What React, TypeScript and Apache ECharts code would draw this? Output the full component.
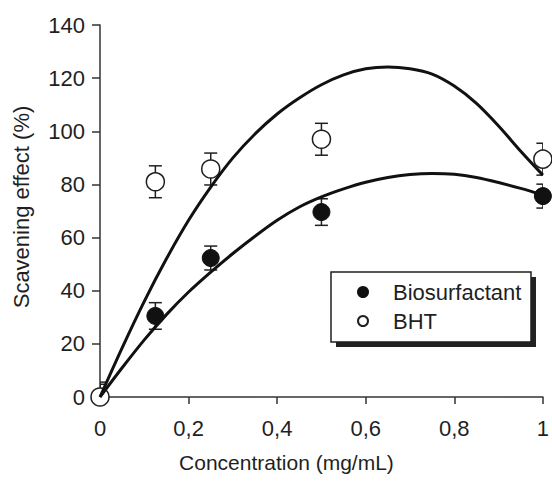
import React, { useEffect, useRef } from "react";
import * as echarts from "echarts";

// Measured points [concentration, scavenging effect %, error]
const bioPoints: number[][] = [
  [0, 0, 4.8],
  [0.125, 30.5, 5],
  [0.25, 52.3, 4.5],
  [0.5, 69.6, 5],
  [1, 75.6, 4.5],
];
const bhtPoints: number[][] = [
  [0, 0, 5.6],
  [0.125, 81, 6],
  [0.25, 85.8, 6],
  [0.5, 97, 6],
  [1, 89.5, 6],
];

// Trend curves
const bhtCurve: number[][] = [
  [0, 0], [0.05, 18.5], [0.1, 36], [0.15, 52], [0.2, 66.5], [0.25, 79], [0.3, 90],
  [0.35, 99], [0.4, 106.5], [0.45, 112.5], [0.5, 117.5], [0.55, 121.2], [0.6, 123.5],
  [0.65, 124.2], [0.7, 123.5], [0.75, 121.5], [0.8, 117], [0.85, 110.5], [0.9, 102],
  [0.95, 92.5], [1, 83.5],
];
const bioCurve: number[][] = [
  [0, 0], [0.05, 11], [0.1, 21.5], [0.15, 31], [0.2, 39.5], [0.25, 47], [0.3, 54],
  [0.35, 60.5], [0.4, 66.5], [0.45, 71.5], [0.5, 75.3], [0.55, 78.3], [0.6, 80.8],
  [0.65, 82.6], [0.7, 83.7], [0.75, 84.1], [0.8, 83.8], [0.85, 82.6], [0.9, 80.7],
  [0.95, 78.5], [1, 76],
];

const xTickLabels = ["0", "0,2", "0,4", "0,6", "0,8", "1"];
const yTicks = [0, 20, 40, 60, 80, 100, 120, 140];

const FONT = "'Liberation Sans', Arial, sans-serif";
const INK = "#1f1f1f";

export default function App() {
  const ref = useRef<HTMLDivElement>(null);
  useEffect(() => {
    if (!ref.current) return;
    const chart = echarts.init(ref.current, undefined, { renderer: "svg" });
    const errRender = (params: any, api: any) => {
      const x = api.value(0);
      const y = api.value(1);
      const e = api.value(2);
      const top = api.coord([x, y + e]);
      const bot = api.coord([x, y - e]);
      const hw = 6.5;
      const st = { stroke: INK, lineWidth: 1.5 };
      return {
        type: "group",
        children: [
          { type: "line", shape: { x1: top[0], y1: top[1], x2: bot[0], y2: bot[1] }, style: st },
          { type: "line", shape: { x1: top[0] - hw, y1: top[1], x2: top[0] + hw, y2: top[1] }, style: st },
          { type: "line", shape: { x1: bot[0] - hw, y1: bot[1], x2: bot[0] + hw, y2: bot[1] }, style: st },
        ],
      };
    };
    chart.setOption({
      animation: false,
      backgroundColor: "#ffffff",
      textStyle: { fontFamily: FONT },
      grid: { left: 100, right: 8, top: 25, bottom: 94 },
      xAxis: {
        type: "value",
        min: 0,
        max: 1,
        interval: 0.2,
        name: "Concentration (mg/mL)",
        nameLocation: "middle",
        nameGap: 55,
        nameTextStyle: { fontSize: 21, color: INK, fontFamily: FONT, padding: [0, 70, 0, 0] },
        axisLine: { show: true, lineStyle: { color: "#333", width: 1.5 } },
        axisTick: { show: true, inside: false, length: 7, lineStyle: { color: "#333", width: 1.5 } },
        axisLabel: {
          fontSize: 22,
          color: INK,
          fontFamily: FONT,
          margin: 20,
          formatter: (v: number) => xTickLabels[Math.round(v / 0.2)] ?? "",
        },
        splitLine: { show: false },
      },
      yAxis: {
        type: "value",
        min: yTicks[0],
        max: yTicks[yTicks.length - 1],
        interval: 20,
        name: "Scavening effect (%)",
        nameLocation: "middle",
        nameRotate: 90,
        nameGap: 68,
        nameTextStyle: { fontSize: 22, color: INK, fontFamily: FONT, padding: [0, 0, 0, 8] },
        axisLine: { show: true, lineStyle: { color: "#333", width: 1.5 } },
        axisTick: { show: true, inside: false, length: 8, lineStyle: { color: "#333", width: 1.5 } },
        axisLabel: { fontSize: 22, color: INK, fontFamily: FONT, margin: 15 },
        splitLine: { show: false },
      },
      legend: {
        orient: "vertical",
        left: 357,
        top: 280,
        padding: 0,
        itemWidth: 10,
        itemHeight: 10,
        itemGap: 5,
        data: ["Biosurfactant", "BHT"],
        textStyle: { fontSize: 22, color: INK, fontFamily: FONT, lineHeight: 24, padding: [0, 0, 0, 20] },
        z: 10,
      },
      graphic: [
        { type: "rect", z: 1, shape: { x: 336, y: 277, width: 200, height: 70 }, style: { fill: "#222" } },
        { type: "rect", z: 2, shape: { x: 331, y: 272, width: 200, height: 70 }, style: { fill: "#fff", stroke: INK, lineWidth: 1.5 } },
      ],
      series: [
        {
          name: "Biosurfactant error",
          type: "custom",
          renderItem: errRender,
          data: bioPoints,
          clip: true,
          z: 3,
          silent: true,
        },
        {
          name: "BHT error",
          type: "custom",
          renderItem: errRender,
          data: bhtPoints,
          clip: true,
          z: 3,
          silent: true,
        },
        {
          name: "Biosurfactant",
          type: "scatter",
          data: bioPoints.map((p) => [p[0], p[1]]),
          symbol: "circle",
          symbolSize: 17,
          clip: false,
          itemStyle: { color: "#111", borderColor: "#111", borderWidth: 1, opacity: 1 },
          z: 4,
        },
        {
          name: "BHT",
          type: "scatter",
          data: bhtPoints.map((p) => [p[0], p[1]]),
          symbol: "circle",
          symbolSize: 18,
          clip: false,
          itemStyle: { color: "#fff", borderColor: INK, borderWidth: 1.5, opacity: 1 },
          z: 5,
        },
        {
          name: "BHT fit",
          type: "line",
          data: bhtCurve,
          smooth: 0.3,
          symbol: "none",
          lineStyle: { color: "#111", width: 3 },
          z: 6,
          silent: true,
        },
        {
          name: "Biosurfactant fit",
          type: "line",
          data: bioCurve,
          smooth: 0.3,
          symbol: "none",
          lineStyle: { color: "#111", width: 3 },
          z: 6,
          silent: true,
        },
      ],
    });
    return () => chart.dispose();
  }, []);
  return <div ref={ref} style={{ width: 552, height: 491, position: "absolute", left: 0, top: 0 }} />;
}
